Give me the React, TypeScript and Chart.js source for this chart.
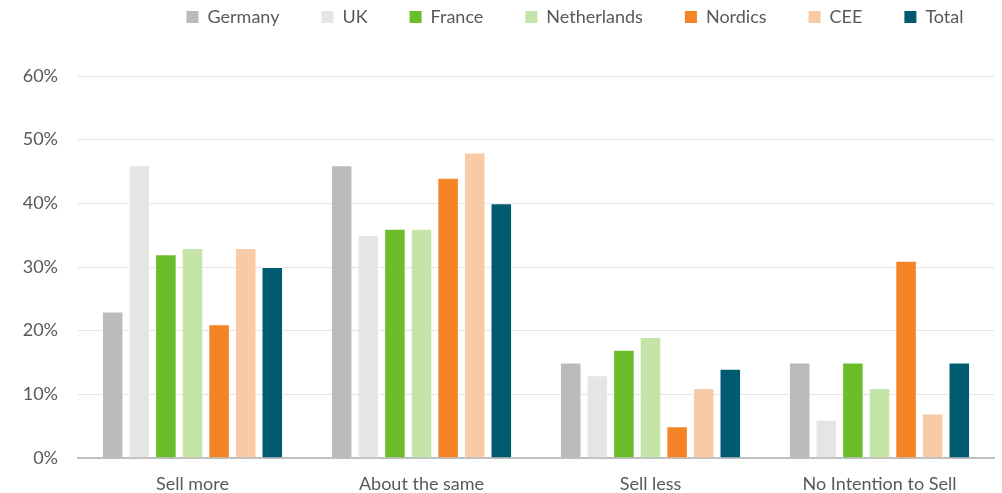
import React, { useEffect, useRef } from "react";
import { Chart, registerables } from "chart.js";

Chart.register(...registerables);

const categories = ["Sell more", "About the same", "Sell less", "No Intention to Sell"];
const seriesNames = ["Germany", "UK", "France", "Netherlands", "Nordics", "CEE", "Total"];
const germany = [23, 46, 15, 15];
const uk = [46, 35, 13, 6];
const france = [32, 36, 17, 15];
const netherlands = [33, 36, 19, 11];
const nordics = [21, 44, 5, 31];
const cee = [33, 48, 11, 7];
const total = [30, 40, 14, 15];
const yTickValues = [0, 10, 20, 30, 40, 50, 60];

const seriesValues = [germany, uk, france, netherlands, nordics, cee, total];
const seriesColors = ["#BBBBBB", "#E5E5E4", "#6CBD2A", "#C5E5A8", "#F48426", "#F8CBA6", "#005A70"];

const FONT = "Lato, 'Noto Sans', sans-serif";
const TEXT = "#595959";

const legendShift = {
  id: "legendShift",
  afterLayout(chart: any) {
    const l = chart.legend;
    if (!l) return;
    const dy = -40;
    const targetCenter = 575;
    const dx = targetCenter - (l.left + l.right) / 2;
    l.top += dy;
    l.bottom += dy;
    l.left += dx;
    l.right += dx;
  },
};

export default function App() {
  const ref = useRef<HTMLCanvasElement | null>(null);

  useEffect(() => {
    if (!ref.current) return;
    const chart = new Chart(ref.current, {
      type: "bar",
      data: {
        labels: categories,
        datasets: seriesNames.map((name, i) => ({
          label: name,
          data: seriesValues[i],
          backgroundColor: seriesColors[i],
          borderColor: "rgba(255,255,255,0.85)",
          borderWidth: 1,
          categoryPercentage: 0.813,
          barPercentage: 0.81,
        })),
      },
      options: {
        animation: false,
        responsive: true,
        maintainAspectRatio: false,
        layout: { padding: { left: 0, right: 8, top: 6, bottom: 0 } },
        plugins: {
          tooltip: { enabled: false },
          legend: {
            position: "top",
            align: "center",
            labels: {
              boxWidth: 12,
              boxHeight: 12,
              padding: 42,
              color: TEXT,
              font: { family: FONT, size: 18 },
              generateLabels: (c: any) =>
                Chart.defaults.plugins.legend.labels.generateLabels(c).map((it: any) => ({
                  ...it,
                  lineWidth: 0,
                  strokeStyle: "transparent",
                })),
            },
          },
        },
        scales: {
          x: {
            afterFit: (s: any) => {
              s.height = 35;
            },
            grid: { display: false, drawTicks: false },
            border: { display: true, color: "#BFBFBF", width: 2 },
            ticks: { color: TEXT, font: { family: FONT, size: 18 }, padding: 15 },
          },
          y: {
            min: 0,
            max: 60,
            afterBuildTicks: (s: any) => {
              s.ticks = yTickValues.map((v) => ({ value: v }));
            },
            afterFit: (s: any) => {
              s.width = 78;
            },
            grid: { color: "#E3E3E3", lineWidth: 1, drawTicks: false },
            border: { display: false },
            ticks: {
              color: TEXT,
              font: { family: FONT, size: 18 },
              padding: 20,
              callback: (v: any) => v + "%",
            },
          },
        },
      },
      plugins: [legendShift],
    });
    return () => chart.destroy();
  }, []);

  return (
    <div style={{ position: "fixed", left: 0, top: 0, width: 1002, height: 493, background: "#fff" }}>
      <canvas ref={ref} />
    </div>
  );
}
